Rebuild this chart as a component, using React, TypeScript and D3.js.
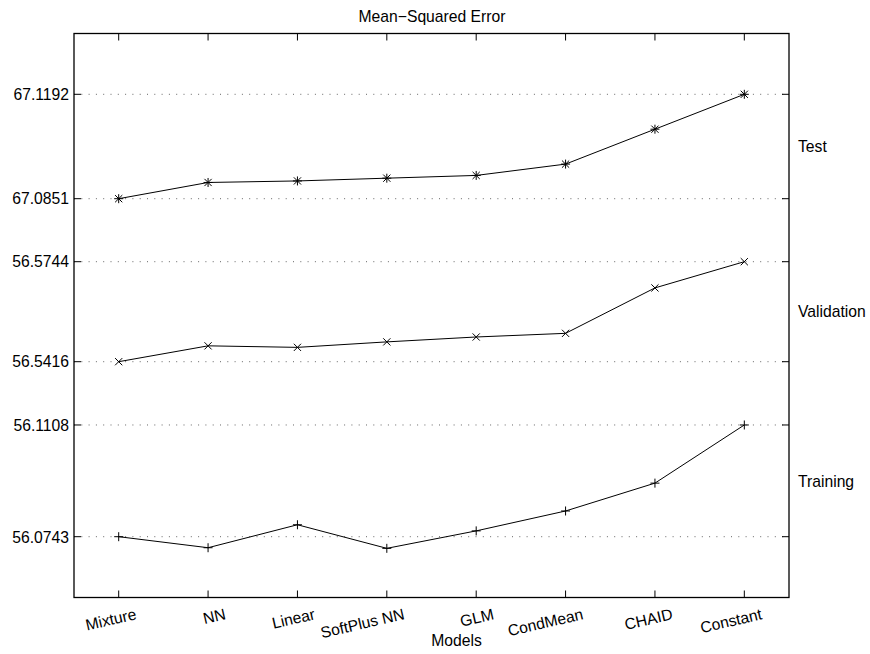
import React from "react";
import * as d3 from "d3";

const models = ["Mixture", "NN", "Linear", "SoftPlus NN", "GLM", "CondMean", "CHAID", "Constant"];
const testMSE = [67.0851, 67.0904, 67.0909, 67.0918, 67.0927, 67.0964, 67.1078, 67.1192];
const validationMSE = [56.5416, 56.5468, 56.5463, 56.5481, 56.5497, 56.5509, 56.5658, 56.5744];
const trainingMSE = [56.0743, 56.0707, 56.0782, 56.0705, 56.0762, 56.0827, 56.0918, 56.1108];
const testTicks = [67.0851, 67.1192];
const validationTicks = [56.5416, 56.5744];
const trainingTicks = [56.0743, 56.1108];

const W = 870, H = 654;
const L = 74, R = 789, T = 33.5, B = 597.5;
const FONT = "'Liberation Sans', Arial, Helvetica, sans-serif";
const FS = 15.7;

type Series = { name: string; values: number[]; ticks: number[]; band: [number, number]; marker: "star" | "x" | "plus" };

const series: Series[] = [
  { name: "Test", values: testMSE, ticks: testTicks, band: [0.7071, 0.8922], marker: "star" },
  { name: "Validation", values: validationMSE, ticks: validationTicks, band: [0.4181, 0.5954], marker: "x" },
  { name: "Training", values: trainingMSE, ticks: trainingTicks, band: [0.1078, 0.3059], marker: "plus" },
];

const x = d3.scaleLinear().domain([0.5, models.length + 0.5]).range([L, R]);
const yFrac = d3.scaleLinear().domain([0, 1]).range([B, T]);

function Marker({ kind, cx, cy }: { kind: string; cx: number; cy: number }) {
  const s = 4.5;
  const d = 3.6;
  const plus = `M${cx - s},${cy}L${cx + s},${cy}M${cx},${cy - s}L${cx},${cy + s}`;
  const cross = `M${cx - d},${cy - d}L${cx + d},${cy + d}M${cx - d},${cy + d}L${cx + d},${cy - d}`;
  let path = plus;
  if (kind === "x") path = cross;
  if (kind === "star") path = plus + cross;
  return <path d={path} stroke="#000" strokeWidth={1} fill="none" />;
}

export default function App() {
  const tickLen = 7;
  return (
    <svg width={W} height={H} style={{ position: "absolute", left: 0, top: 0, background: "#fff" }} fontFamily={FONT}>
      <rect x={0} y={0} width={W} height={H} fill="#fff" />
      {/* grid + y ticks */}
      {series.map((s) => {
        const ys = d3.scaleLinear().domain(s.ticks).range(s.band.map((f) => yFrac(f)));
        return (
          <g key={s.name + "grid"}>
            {s.ticks.map((t) => (
              <g key={t}>
                <line x1={L} x2={R} y1={ys(t)} y2={ys(t)} stroke="#666" strokeWidth={1} strokeDasharray="1,6.3" />
                <line x1={L} x2={L + tickLen} y1={ys(t)} y2={ys(t)} stroke="#000" />
                <line x1={R} x2={R - tickLen} y1={ys(t)} y2={ys(t)} stroke="#000" />
                <text x={L - 5} y={ys(t) + 5.8} textAnchor="end" fontSize={FS} fill="#000">
                  {t.toFixed(4)}
                </text>
              </g>
            ))}
          </g>
        );
      })}
      {/* x ticks */}
      {models.map((m, i) => (
        <g key={m}>
          <line x1={x(i + 1)} x2={x(i + 1)} y1={T} y2={T + tickLen} stroke="#000" />
          <line x1={x(i + 1)} x2={x(i + 1)} y1={B} y2={B - tickLen} stroke="#000" />
          <text
            x={x(i + 1) + 18.5}
            y={619}
            textAnchor="end"
            fontSize={FS}
            transform={`rotate(-13 ${x(i + 1) + 18.5} 619)`}
            fill="#000"
          >
            {m}
          </text>
        </g>
      ))}
      {/* series */}
      {series.map((s) => {
        const ys = d3.scaleLinear().domain(s.ticks).range(s.band.map((f) => yFrac(f)));
        const line = d3
          .line<number>()
          .x((_, i) => x(i + 1))
          .y((v) => ys(v));
        const mid = (ys(s.ticks[0]) + ys(s.ticks[1])) / 2;
        return (
          <g key={s.name}>
            <path d={line(s.values) || ""} fill="none" stroke="#000" strokeWidth={1} />
            {s.values.map((v, i) => (
              <Marker key={i} kind={s.marker} cx={x(i + 1)} cy={ys(v)} />
            ))}
            <text x={R + 9} y={mid + 5.8} fontSize={FS} fill="#000">
              {s.name}
            </text>
          </g>
        );
      })}
      {/* box */}
      <rect x={L} y={T} width={R - L} height={B - T} fill="none" stroke="#000" strokeWidth={1.3} />
      <text x={432} y={22} textAnchor="middle" fontSize={FS} fill="#000">
        Mean−Squared Error
      </text>
      <text x={456.5} y={646} textAnchor="middle" fontSize={FS} fill="#000">
        Models
      </text>
    </svg>
  );
}
